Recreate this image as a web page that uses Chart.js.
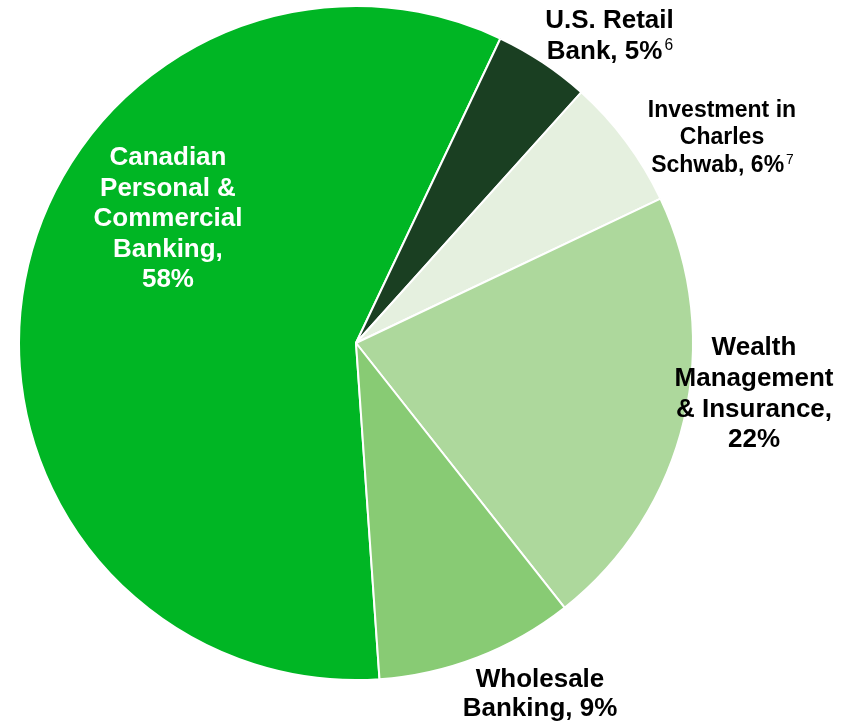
<!DOCTYPE html>
<html>
<head>
<meta charset="utf-8">
<script src="https://cdn.jsdelivr.net/npm/chart.js@4/dist/chart.umd.min.js"></script>
<style>
  html, body { margin: 0; padding: 0; background: #fff; font-family: "Liberation Sans", Arial, sans-serif; }
  #wrap { width: 855px; height: 725px; }
  .probe { position: absolute; left: -999px; top: 0; font-weight: bold; }
</style>
</head>
<body>
<span class="probe">Wholesale Banking, 9%</span>
<span class="probe" style="font-weight:normal">67</span>
<div id="wrap"><canvas id="pie"></canvas></div>
<script>
// segments, clockwise from the bottom
const segments = ["Canadian Personal & Commercial Banking", "U.S. Retail Bank", "Investment in Charles Schwab", "Wealth Management & Insurance", "Wholesale Banking"];
const shares = [58.1, 4.6, 6.3, 21.4, 9.5];
const shareLabels = ["58%", "5%", "6%", "22%", "9%"];
const footnotes = ["", "6", "7", "", ""];
const colors = ["#00b624", "#1a3f22", "#e5f0df", "#add89c", "#88cb74"];

// how each label is broken into lines (last line gets the share)
const labelLines = [
  ["Canadian", "Personal &", "Commercial", "Banking,"],
  ["U.S. Retail", "Bank,"],
  ["Investment in", "Charles", "Schwab,"],
  ["Wealth", "Management", "& Insurance,"],
  ["Wholesale", "Banking,"]
];
// label placement: x centre / first baseline as fraction of radius, pitch, font size, colour
const labelPos = [
  { fx: -0.558, fy: -0.528, pitch: 30.5, size: 26, color: "#fff", ownLine: true },
  { fx: 0.752, fy: -0.935, pitch: 31, size: 26, color: "#000" },
  { fx: 1.086, fy: -0.671, pitch: 27.5, size: 23, color: "#000" },
  { fx: 1.181, fy: 0.036, pitch: 30.7, size: 26, color: "#000", ownLine: true },
  { fx: 0.546, fy: 1.021, pitch: 29, size: 26, color: "#000" }
];

const FONT = '"Liberation Sans", Arial, sans-serif';

const labelPlugin = {
  id: "sliceLabels",
  afterDatasetsDraw(chart) {
    const ctx = chart.ctx;
    const arc = chart.getDatasetMeta(0).data[0];
    const cx = arc.x, cy = arc.y, r = arc.outerRadius;
    ctx.save();
    ctx.textBaseline = "alphabetic";
    labelLines.forEach((lines, i) => {
      const p = labelPos[i];
      let all = lines.slice();
      if (p.ownLine) all.push(shareLabels[i]);
      else all[all.length - 1] += " " + shareLabels[i];
      const x = cx + p.fx * r;
      let y = cy + p.fy * r;
      all.forEach((line, k) => {
        ctx.font = "bold " + p.size + "px " + FONT;
        const w = ctx.measureText(line).width;
        let supW = 0;
        const isLast = k === all.length - 1;
        if (isLast && footnotes[i]) {
          ctx.font = (p.size * 0.6) + "px " + FONT;
          supW = ctx.measureText(footnotes[i]).width + 1;
        }
        const left = x - (w + supW) / 2;
        ctx.font = "bold " + p.size + "px " + FONT;
        ctx.fillStyle = p.color;
        ctx.textAlign = "left";
        ctx.fillText(line, left, y);
        if (supW) {
          ctx.font = (p.size * 0.6) + "px " + FONT;
          ctx.fillText(footnotes[i], left + w + 2, y - p.size * 0.36);
        }
        y += p.pitch;
      });
    });
    ctx.restore();
  }
};

function draw() {
  new Chart(document.getElementById("pie"), {
    type: "pie",
    data: {
      labels: segments,
      datasets: [{
        data: shares,
        backgroundColor: colors,
        borderColor: "#ffffff",
        borderWidth: 2
      }]
    },
    options: {
      responsive: true,
      maintainAspectRatio: false,
      animation: false,
      rotation: 176,
      layout: { padding: { left: 18, top: 5, right: 161, bottom: 44 } },
      plugins: {
        legend: { display: false },
        tooltip: { enabled: false }
      }
    },
    plugins: [labelPlugin]
  });
}

Promise.all([
  document.fonts.load('bold 26px "Liberation Sans"'),
  document.fonts.load('16px "Liberation Sans"')
]).then(draw, draw);
</script>
</body>
</html>
